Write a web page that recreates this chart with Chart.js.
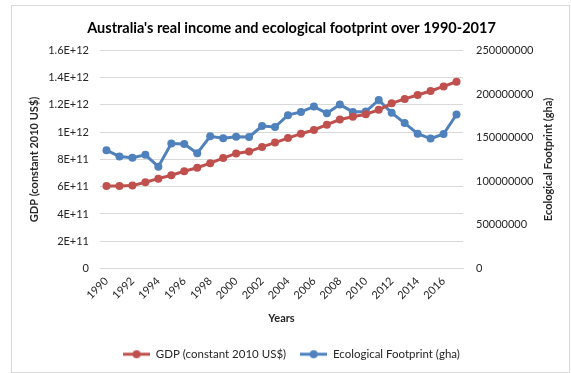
<!DOCTYPE html>
<html>
<head>
<meta charset="utf-8">
<script src="https://cdn.jsdelivr.net/npm/chart.js@4"></script>
<style>
  html, body { margin: 0; padding: 0; background: #fff; }
  #wrap {
    position: absolute; left: 11px; top: 5px;
    width: 557px; height: 366px;
    border: 1px solid #d9d9d9;
  }
  #chart { display: block; }
</style>
</head>
<body>
<div id="wrap"><canvas id="chart" width="557" height="366"></canvas></div>
<script>
// Australia: GDP (constant 2010 US$) vs ecological footprint, 1990-2017
const years = [
    '1990', '1991', '1992', '1993', '1994', '1995', '1996', '1997', '1998', '1999',
    '2000', '2001', '2002', '2003', '2004', '2005', '2006', '2007', '2008', '2009',
    '2010', '2011', '2012', '2013', '2014', '2015', '2016', '2017',
];
const gdp = [
    0.606e12, 0.606e12, 0.608e12, 0.633e12, 0.659e12, 0.684e12, 0.713e12, 0.739e12, 0.773e12, 0.810e12,
    0.844e12, 0.858e12, 0.892e12, 0.924e12, 0.957e12, 0.989e12, 1.016e12, 1.055e12, 1.093e12, 1.113e12,
    1.132e12, 1.164e12, 1.212e12, 1.244e12, 1.273e12, 1.302e12, 1.336e12, 1.370e12,
];
const footprint = [
    135.6e6, 128.4e6, 126.9e6, 130.3e6, 116.7e6, 143.2e6, 142.8e6, 132.2e6, 151.5e6, 149.2e6,
    151.1e6, 150.8e6, 163.3e6, 162.2e6, 175.8e6, 179.5e6, 185.6e6, 178.0e6, 187.9e6, 179.5e6,
    179.9e6, 193.2e6, 178.4e6, 166.7e6, 154.5e6, 148.9e6, 154.2e6, 176.5e6,
];
const gdpTicks = ['0', '2E+11', '4E+11', '6E+11', '8E+11', '1E+12', '1.2E+12', '1.4E+12', '1.6E+12'];

const RED = '#c0504d';
const BLUE = '#4f81bd';
const FONT = 'Lato, "Liberation Sans", sans-serif';
const TEXT = '#262626';

// little line-with-dot swatch used as legend marker
function _swatch(color) {
    const c = document.createElement('canvas');
    c.width = 27; c.height = 10;
    const g = c.getContext('2d');
    g.strokeStyle = color; g.lineWidth = 3;
    g.beginPath(); g.moveTo(0, 5); g.lineTo(27, 5); g.stroke();
    g.fillStyle = color;
    g.beginPath(); g.arc(13.5, 5, 4, 0, Math.PI * 2); g.fill();
    return c;
}
const swatches = [_swatch(RED), _swatch(BLUE)];

// right-hand axis title reads bottom-to-top like the left one
const rightTitle = {
    id: 'rightTitle',
    afterDraw(chart) {
        const { ctx, chartArea } = chart;
        ctx.save();
        ctx.translate(536, (chartArea.top + chartArea.bottom) / 2);
        ctx.rotate(-Math.PI / 2);
        ctx.font = 'bold 11px ' + FONT;
        ctx.fillStyle = TEXT;
        ctx.textAlign = 'center';
        ctx.textBaseline = 'middle';
        ctx.fillText('Ecological Footprint (gha)', 0, 0);
        ctx.restore();
    },
};

new Chart(document.getElementById('chart'), {
    type: 'line',
    data: {
        labels: years,
        datasets: [
            {
                label: 'GDP (constant 2010 US$)', data: gdp, yAxisID: 'y',
                borderColor: RED, backgroundColor: RED, borderWidth: 3,
                pointRadius: 4, pointBorderWidth: 0, tension: 0,
            },
            {
                label: 'Ecological Footprint (gha)', data: footprint, yAxisID: 'y1',
                borderColor: BLUE, backgroundColor: BLUE, borderWidth: 3,
                pointRadius: 4, pointBorderWidth: 0, tension: 0,
            },
        ],
    },
    options: {
        responsive: false, animation: false,
        layout: { padding: { left: 12, right: 10, top: 2, bottom: 2 } },
        plugins: {
            title: {
                display: true,
                text: "Australia's real income and ecological footprint over 1990-2017",
                color: '#000', font: { family: FONT, size: 14.5, weight: 'bold' },
                padding: { top: 12, bottom: 13 },
            },
            legend: {
                position: 'bottom',
                labels: {
                    color: TEXT, font: { family: FONT, size: 11.5 },
                    usePointStyle: true, pointStyleWidth: 27, padding: 14,
                    generateLabels(chart) {
                        const items = Chart.defaults.plugins.legend.labels.generateLabels(chart);
                        items.forEach((it, i) => { it.pointStyle = swatches[i]; it.rotation = 0; });
                        return items;
                    },
                },
            },
            tooltip: { enabled: false },
        },
        scales: {
            x: {
                offset: true,
                grid: { display: false, drawTicks: false },
                border: { color: '#d9d9d9' },
                ticks: {
                    color: TEXT, font: { family: FONT, size: 11 },
                    autoSkip: false, minRotation: 45, maxRotation: 45, padding: 6,
                    callback: (v, i) => (i % 2 === 0 ? years[i] : ''),
                },
                title: {
                    display: true, text: 'Years', color: TEXT,
                    font: { family: FONT, size: 11, weight: 'bold' },
                    padding: { top: 4, bottom: 9 },
                },
                afterFit(scale) { scale.height = 66; },
            },
            y: {
                position: 'left', min: 0, max: 1.6e12,
                grid: { color: '#d9d9d9', drawTicks: false },
                border: { display: false },
                ticks: {
                    stepSize: 2e11, padding: 11, color: TEXT,
                    font: { family: FONT, size: 11 },
                    callback: (v, i) => gdpTicks[i],
                },
                title: {
                    display: true, text: 'GDP (constant 2010 US$)', color: TEXT,
                    font: { family: FONT, size: 11, weight: 'bold' },
                    padding: 4,
                },
                afterFit(scale) { scale.width = 76; },
            },
            y1: {
                position: 'right', min: 0, max: 250000000,
                grid: { display: false, drawTicks: false },
                border: { display: false },
                ticks: {
                    stepSize: 50000000, padding: 13, color: TEXT,
                    font: { family: FONT, size: 11 },
                    callback: v => String(v),
                },
                afterFit(scale) { scale.width = 96; },
            },
        },
    },
    plugins: [rightTitle],
});
</script>
</body>
</html>
